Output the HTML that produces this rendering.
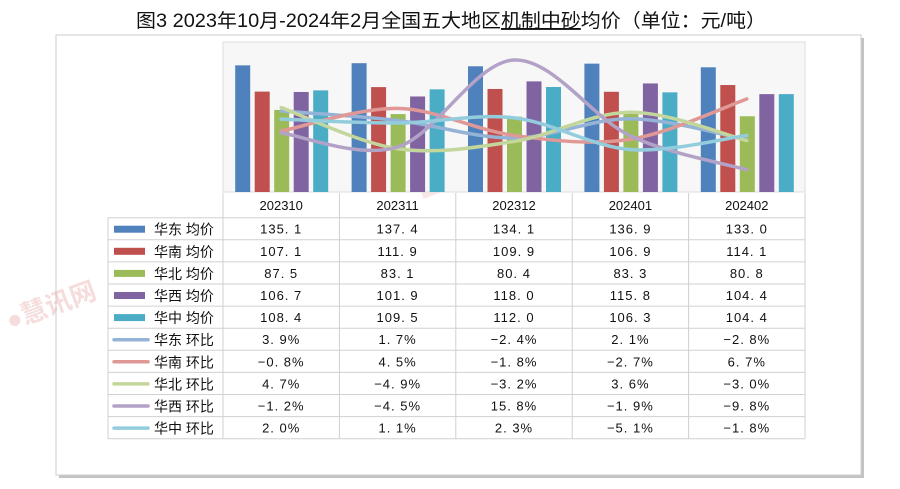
<!DOCTYPE html>
<html><head><meta charset="utf-8">
<style>
html,body{margin:0;padding:0;background:#fff;}
svg{display:block;font-family:"Liberation Sans","Noto Sans CJK SC",sans-serif;}
</style></head>
<body>
<svg id="chart" width="900" height="489" viewBox="0 0 900 489" xmlns="http://www.w3.org/2000/svg">
  <text x="451" y="27" text-anchor="middle" font-size="19" fill="#111" textLength="630" lengthAdjust="spacingAndGlyphs" font-family="Liberation Sans,Noto Sans CJK SC,sans-serif">图3 2023年10月-2024年2月全国五大地区<tspan text-decoration="underline">机制中砂</tspan>均价（单位：元/吨）</text>
  <rect x="59" y="38" width="805" height="440" fill="#888" opacity="0.5"/>
  <rect x="56" y="35" width="805" height="440" fill="#fff" stroke="#ccc"/>
  <text x="10" y="330" font-size="26" font-weight="bold" fill="#e8a0a0" opacity="0.35" transform="rotate(-20 10 330)">●慧讯网</text>
  <text x="420" y="200" font-size="60" font-weight="bold" fill="#e8a0a0" opacity="0.25" transform="rotate(-20 420 200)">10慧讯网</text>
  <rect x="223" y="42" width="582" height="150" fill="#f7f7f7" stroke="#ddd"/>
  <g id="bars"></g>
  <g id="lines"></g>
  <g id="table"></g>
</svg>
<script>
const categories = ["202310","202311","202312","202401","202402"];
const barNames = ["华东 均价","华南 均价","华北 均价","华西 均价","华中 均价"];
const huadongPrice = [135.1,137.4,134.1,136.9,133.0];
const huananPrice = [107.1,111.9,109.9,106.9,114.1];
const huabeiPrice = [87.5,83.1,80.4,83.3,80.8];
const huaxiPrice = [106.7,101.9,118.0,115.8,104.4];
const huazhongPrice = [108.4,109.5,112.0,106.3,104.4];
const lineNames = ["华东 环比","华南 环比","华北 环比","华西 环比","华中 环比"];
const huadongMoM = [3.9,1.7,-2.4,2.1,-2.8];
const huananMoM = [-0.8,4.5,-1.8,-2.7,6.7];
const huabeiMoM = [4.7,-4.9,-3.2,3.6,-3.0];
const huaxiMoM = [-1.2,-4.5,15.8,-1.9,-9.8];
const huazhongMoM = [2.0,1.1,2.3,-5.1,-1.8];

const barSeries=[huadongPrice,huananPrice,huabeiPrice,huaxiPrice,huazhongPrice];
const lineSeries=[huadongMoM,huananMoM,huabeiMoM,huaxiMoM,huazhongMoM];
const barColors=["#4f81bd","#c0504d","#9bbb59","#8064a2","#4bacc6"];
const lineColors=["#95b3d7","#e09896","#c3d69b","#b3a2c7","#93cddd"];
const NS="http://www.w3.org/2000/svg";
const L=223,R=805,T=42,B=192,colW=(R-L)/categories.length;
const yBar=v=>B-(v/160)*(B-T);
const yLine=v=>B-((v+15)/35)*(B-T);
const xc=i=>L+colW*(i+0.5);
function mk(tag,attrs,parent){const e=document.createElementNS(NS,tag);for(const k in attrs)e.setAttribute(k,attrs[k]);parent.appendChild(e);return e;}
const gb=document.getElementById('bars');
barSeries.forEach((s,si)=>{s.forEach((v,i)=>{
  const x=xc(i)-46+si*19.5;
  const r=mk('rect',{x:x,y:yBar(v),width:15,height:B-yBar(v),fill:barColors[si]},gb);
  
  
});});
const gl=document.getElementById('lines');
lineSeries.forEach((s,si)=>{
  const p=s.map((v,i)=>[xc(i),yLine(v)]);
  let d='M'+p[0][0]+','+p[0][1];
  for(let i=0;i<p.length-1;i++){
    const p0=p[Math.max(i-1,0)],p1=p[i],p2=p[i+1],p3=p[Math.min(i+2,p.length-1)];
    const t=1/6;
    d+=' C'+(p1[0]+(p2[0]-p0[0])*t)+','+(p1[1]+(p2[1]-p0[1])*t)+' '+(p2[0]-(p3[0]-p1[0])*t)+','+(p2[1]-(p3[1]-p1[1])*t)+' '+p2[0]+','+p2[1];
  }
  const path=mk('path',{d:d,fill:'none',stroke:lineColors[si],'stroke-width':3.5,'stroke-linecap':'round'},gl);
  
  
});
const gt=document.getElementById('table');
const rowH=22.1, top0=193, hdrB=217.7, legL=108;
// header row
mk('line',{x1:L,y1:hdrB,x2:R,y2:hdrB,stroke:'#d0d0d0'},gt);
for(let i=0;i<=categories.length;i++){
  mk('line',{x1:L+colW*i,y1:top0,x2:L+colW*i,y2:hdrB+rowH*10,stroke:'#d0d0d0'},gt);
}
categories.forEach((c,i)=>{
  const t=mk('text',{x:xc(i),y:top0+17,'text-anchor':'middle','font-size':13,fill:'#111'},gt);
  t.textContent=c;
  
  
});
const names=barNames.concat(lineNames);
const all=barSeries.concat(lineSeries);
for(let r=0;r<10;r++){
  const y=hdrB+rowH*r;
  mk('line',{x1:legL,y1:y+rowH,x2:R,y2:y+rowH,stroke:'#d0d0d0'},gt);
  if(r===0) mk('line',{x1:legL,y1:y,x2:L,y2:y,stroke:'#d0d0d0'},gt);
  if(r<5){
    const k=mk('rect',{x:114,y:y+8,width:31,height:7,fill:barColors[r]},gt);
    
    
  }else{
    const k=mk('line',{x1:114,y1:y+11.5,x2:148,y2:y+11.5,stroke:lineColors[r-5],'stroke-width':3.5,'stroke-linecap':'round'},gt);
    
    
  }
  const nt=mk('text',{x:154,y:y+17,'font-size':14,fill:'#111'},gt);
  nt.textContent=names[r].replace(' ','\u00a0');
  
  
  all[r].forEach((v,i)=>{
    const s=r<5?v.toFixed(1):v.toFixed(1)+'%';
    const t=mk('text',{x:xc(i),y:y+16,'text-anchor':'middle','font-size':13,fill:'#111','letter-spacing':'1'},gt);
    t.textContent=s.replace('.','. ').replace('-','\u2212');
    
    
  });
}
mk('line',{x1:legL,y1:hdrB,x2:legL,y2:hdrB+rowH*10,stroke:'#d0d0d0'},gt);
</script>
</body></html>
